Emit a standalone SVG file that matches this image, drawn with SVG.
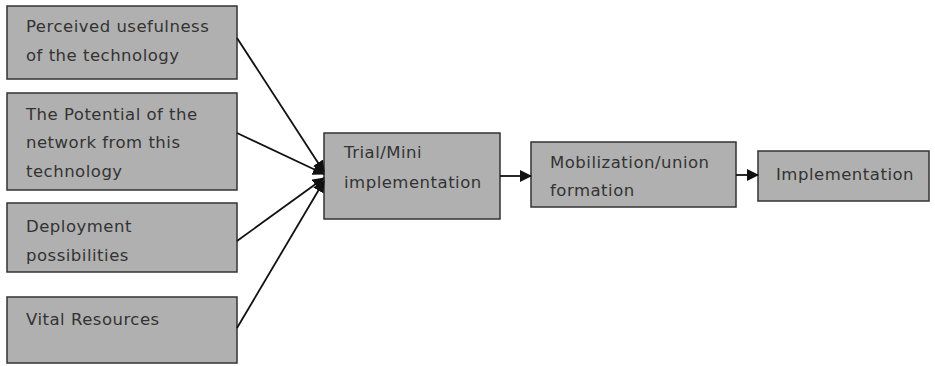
<svg xmlns="http://www.w3.org/2000/svg" width="935" height="366" viewBox="0 0 935 366">
<style>
.box{fill:#b0b0b0;stroke:#333;stroke-width:1.5}
.t{font-family:"DejaVu Sans",sans-serif;font-size:16.5px;letter-spacing:0.5px;fill:#333}
.c{stroke:#111;stroke-width:1.8;fill:none}
</style>
<defs>
<marker id="ah" markerWidth="12" markerHeight="12" refX="11" refY="6" orient="auto" markerUnits="userSpaceOnUse">
<path d="M0,0 L12,6 L0,12 Z" fill="#111"/>
</marker>
</defs>
<rect width="935" height="366" fill="#fff"/>
<g id="n1"><rect class="box" x="7" y="6" width="230" height="73"/><text class="t" x="26" y="32">Perceived usefulness</text><text class="t" x="26" y="61">of the technology</text></g>
<g id="n2"><rect class="box" x="7" y="93" width="230" height="97"/><text class="t" x="26" y="120">The Potential of the</text><text class="t" x="26" y="148">network from this</text><text class="t" x="26" y="177">technology</text></g>
<g id="n3"><rect class="box" x="7" y="203" width="230" height="69"/><text class="t" x="26" y="232">Deployment</text><text class="t" x="26" y="261">possibilities</text></g>
<g id="n4"><rect class="box" x="7" y="297" width="230" height="66"/><text class="t" x="26" y="325">Vital Resources</text></g>
<g id="n5"><rect class="box" x="324" y="133" width="176" height="86"/><text class="t" x="344" y="158">Trial/Mini</text><text class="t" x="344" y="188">implementation</text></g>
<g id="n6"><rect class="box" x="531" y="142" width="205" height="65"/><text class="t" x="550" y="168">Mobilization/union</text><text class="t" x="550" y="196">formation</text></g>
<g id="n7"><rect class="box" x="758" y="151" width="171" height="50"/><text class="t" x="776" y="180">Implementation</text></g>
<g id="connectors">
<line class="c" x1="237" y1="38" x2="324" y2="172" marker-end="url(#ah)"/>
<line class="c" x1="237" y1="133" x2="324" y2="174" marker-end="url(#ah)"/>
<line class="c" x1="237" y1="241" x2="324" y2="178" marker-end="url(#ah)"/>
<line class="c" x1="237" y1="328" x2="324" y2="181" marker-end="url(#ah)"/>
<line class="c" x1="500" y1="176" x2="531" y2="176" marker-end="url(#ah)"/>
<line class="c" x1="736" y1="175" x2="758" y2="175" marker-end="url(#ah)"/>
</g>
</svg>
